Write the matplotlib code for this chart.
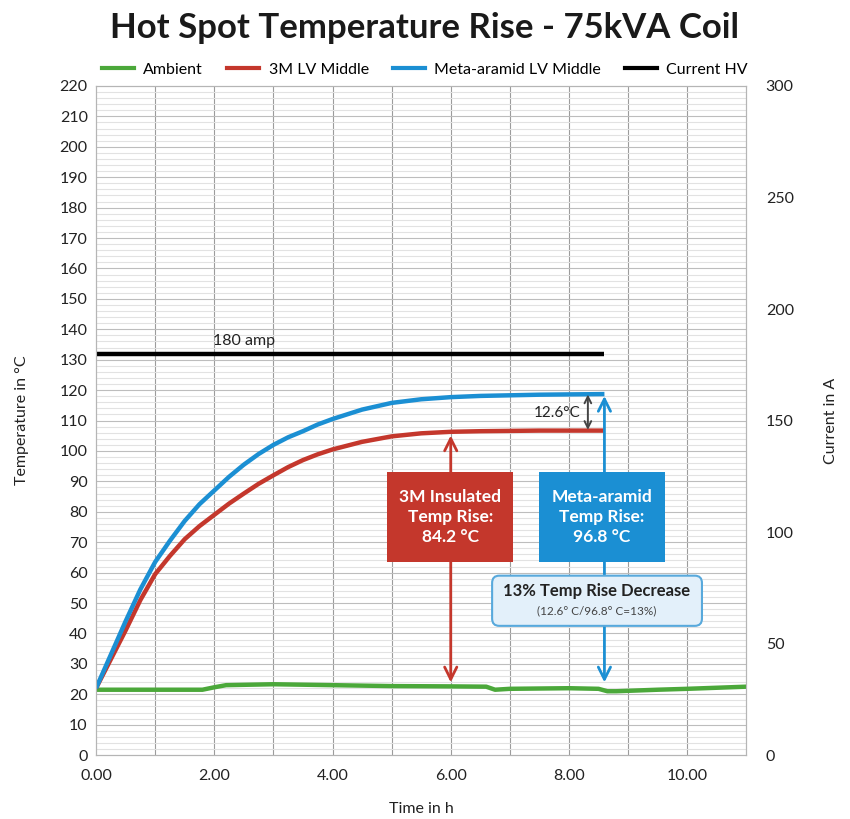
import matplotlib
matplotlib.use("Agg")
from matplotlib import pyplot as plt
from matplotlib.patches import FancyBboxPatch
from matplotlib.lines import Line2D

plt.rcParams["font.family"] = ["Lato", "DejaVu Sans"]

# --- data ---
t_coil = [0, 0.25, 0.5, 0.75, 1, 1.25, 1.5, 1.75, 2, 2.25, 2.5, 2.75, 3, 3.25, 3.5, 3.75,
          4, 4.5, 5, 5.5, 6, 6.5, 7, 7.5, 8, 8.6]
meta_aramid = [22, 33, 44, 54.5, 63.5, 70.5, 77, 82.5, 87, 91.5, 95.5, 99, 102, 104.5, 106.5, 108.7,
               110.5, 113.6, 115.8, 117, 117.7, 118.1, 118.3, 118.5, 118.6, 118.7]
lv_3m = [22, 31.5, 41, 51, 59.5, 65.5, 71, 75.3, 79, 82.7, 86, 89.2, 92, 94.7, 97, 98.9,
         100.5, 103, 104.8, 105.8, 106.3, 106.5, 106.6, 106.7, 106.7, 106.7]

t_amb = [0, 1.8, 2.0, 2.2, 3, 4, 5, 6, 6.6, 6.75, 7, 8, 8.5, 8.65, 8.8, 9.5, 10, 11]
ambient = [21.5, 21.5, 22.3, 23, 23.3, 23, 22.7, 22.6, 22.5, 21.5, 21.8, 22, 21.8, 21, 21, 21.5, 21.8, 22.5]

t_current = [0, 8.6]
current_hv = [180, 180]

GREEN = "#4ba83a"
RED = "#c4372c"
BLUE = "#1b8fd3"
TXT = "#222222"

fig = plt.figure(figsize=(8.5, 8.19), dpi=100)
ax = fig.add_axes([0.113, 0.078, 0.765, 0.817])
ax2 = ax.twinx()

# grid
for h in range(1, 11):
    ax.axvline(h, color="#9c9c9c", lw=0.8, zorder=0)
for v in range(2, 220, 2):
    ax.axhline(v, color="#bdbdbd" if v % 10 == 0 else "#e2e2e2", lw=0.8, zorder=0)

kw = dict(lw=3.2, solid_joinstyle="round", solid_capstyle="butt")
ax.plot(t_amb, ambient, color=GREEN, zorder=3, **kw)
ax.plot(t_coil, lv_3m, color=RED, zorder=3, **kw)
ax.plot(t_coil, meta_aramid, color=BLUE, zorder=4, **kw)
ax2.plot(t_current, current_hv, color="black", **kw)

ax.set_xlim(0, 11)
ax.set_ylim(0, 220)
ax2.set_ylim(0, 300)
ax.set_xticks([0, 2, 4, 6, 8, 10])
ax.set_xticklabels(["%.2f" % x for x in [0, 2, 4, 6, 8, 10]])
ax.set_yticks(range(0, 221, 10))
ax2.set_yticks(range(0, 301, 50))
for a in (ax, ax2):
    a.tick_params(length=0, labelsize=11.5, colors=TXT)
    for s in a.spines.values():
        s.set_color("#b5b5b5")
ax.tick_params(axis="x", pad=10)
ax.tick_params(axis="y", pad=6)
ax2.tick_params(axis="y", pad=14)
ax.set_xlabel("Time in h", fontsize=11.5, color=TXT, labelpad=14)
ax.set_ylabel("Temperature in °C", fontsize=11.5, color=TXT, labelpad=22)
ax2.set_ylabel("Current in A", fontsize=11.5, color=TXT, labelpad=22)

fig.text(0.5, 0.966, "Hot Spot Temperature Rise - 75kVA Coil", ha="center", va="center",
         fontsize=25, fontweight="bold", color="#1a1a1a")

handles = [Line2D([], [], color=c, lw=3) for c in (GREEN, RED, BLUE, "black")]
fig.legend(handles, ["Ambient", "3M LV Middle", "Meta-aramid LV Middle", "Current HV"],
           loc="center", bbox_to_anchor=(0.5, 0.915), ncol=4, frameon=False,
           fontsize=11.5, handlelength=2.0, columnspacing=1.5, handletextpad=0.6)

# annotations
ax.text(1.97, 134, "180 amp", fontsize=11.5, color=TXT, va="bottom")

ax.annotate("", xy=(6.0, 106), xytext=(6.0, 23),
            arrowprops=dict(arrowstyle="<->", color=RED, lw=2, mutation_scale=22), zorder=5)
ax.annotate("", xy=(8.6, 119), xytext=(8.6, 23),
            arrowprops=dict(arrowstyle="<->", color=BLUE, lw=2, mutation_scale=22), zorder=5)
ax.annotate("", xy=(8.32, 119.5), xytext=(8.32, 106),
            arrowprops=dict(arrowstyle="<->", color="#444444", lw=1.4, mutation_scale=12), zorder=5)
ax.text(8.2, 112.5, "12.6°C", fontsize=11, color=TXT, ha="right", va="center", zorder=6)

ax.add_patch(plt.Rectangle((4.93, 63.5), 2.12, 29.5, facecolor=RED, edgecolor="none", zorder=6))
ax.text(5.99, 78.3, "3M Insulated\nTemp Rise:\n84.2 °C", color="white", fontsize=12.5,
        fontweight="bold", ha="center", va="center", linespacing=1.3, zorder=7)
ax.add_patch(plt.Rectangle((7.49, 63.5), 2.14, 29.5, facecolor=BLUE, edgecolor="none", zorder=6))
ax.text(8.56, 78.3, "Meta-aramid\nTemp Rise:\n96.8 °C", color="white", fontsize=12.5,
        fontweight="bold", ha="center", va="center", linespacing=1.3, zorder=7)

ax.add_patch(FancyBboxPatch((6.7, 42.5), 3.55, 16.5, boxstyle="round,pad=0,rounding_size=0.12",
                            mutation_aspect=20, facecolor="#e3f0fa", edgecolor="#58a9dc",
                            lw=1.5, zorder=6))
ax.text(8.47, 53.8, "13% Temp Rise Decrease", fontsize=12, fontweight="bold", color=TXT,
        ha="center", va="center", zorder=7)
ax.text(8.47, 47.3, "(12.6° C/96.8° C=13%)", fontsize=8.5, color="#444444",
        ha="center", va="center", zorder=7)

fig.savefig("out.png", dpi=100)
